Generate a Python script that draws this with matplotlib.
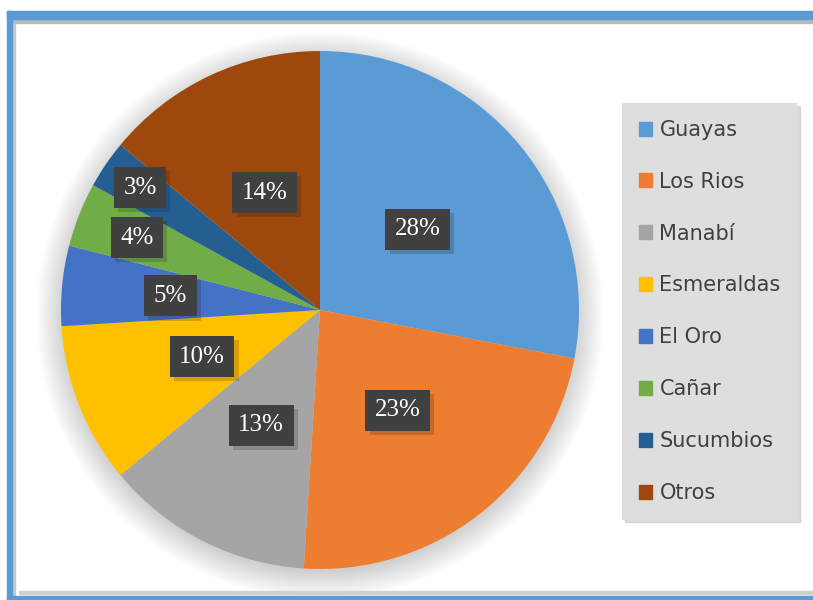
import matplotlib.pyplot as plt
import matplotlib.patheffects as pe
from matplotlib.patches import Rectangle, Circle
import numpy as np

# datos
provincias = ["Guayas", "Los Rios", "Manabí", "Esmeraldas", "El Oro",
              "Cañar", "Sucumbios", "Otros"]
porcentajes = [28, 23, 13, 10, 5, 4, 3, 14]
colores = ["#5b9bd5", "#ed7d31", "#a5a5a5", "#ffc000", "#4472c4",
           "#70ad47", "#255e91", "#9e480e"]

# distancia de cada etiqueta al centro (fraccion del radio)
dist_etiquetas = [0.49, 0.49, 0.5, 0.49, 0.58, 0.76, 0.84, 0.5]

W, H = 813, 600
fig = plt.figure(figsize=(W / 100, H / 100), dpi=100)
fig.patch.set_facecolor("white")

# marco azul con sombra interior
fig.patches.append(Rectangle((19, 6), W, 3, transform=None, color="#d0d0d0", zorder=0))
fig.patches.append(Rectangle((12, 4), 3, H - 23, transform=None, color="#c8c8c8", zorder=0))
fig.patches.append(Rectangle((12, H - 23), W, 4, transform=None, color="#b8b8b8", zorder=0))
fig.patches.append(Rectangle((7, 0), 5, H - 11, transform=None, color="#5b9bd5", zorder=1))
fig.patches.append(Rectangle((7, H - 19), W, 8, transform=None, color="#5b9bd5", zorder=1))
fig.patches.append(Rectangle((7, 0), W, 4, transform=None, color="#5b9bd5", zorder=1))

# ejes del pastel
cx, cy, r = 320, H - 310, 259
esc = 1.15
ax = fig.add_axes([(cx - r * esc) / W, (cy - r * esc) / H, 2 * r * esc / W, 2 * r * esc / H])

# sombra difusa
for k in range(16):
    ax.add_patch(Circle((0, -0.02), 0.99 + 0.007 * k, color="black",
                        alpha=0.012, lw=0, zorder=0))

wedges, _ = ax.pie(porcentajes, colors=colores, startangle=90, counterclock=False,
                   radius=1, wedgeprops=dict(linewidth=0))
ax.set_xlim(-esc, esc)
ax.set_ylim(-esc, esc)
ax.set_aspect("equal")
ax.axis("off")

for w, p, d in zip(wedges, porcentajes, dist_etiquetas):
    ang = np.deg2rad((w.theta1 + w.theta2) / 2)
    t = ax.text(d * np.cos(ang), d * np.sin(ang), f"{p}%", ha="center", va="center",
                color="white", fontsize=18, family="Liberation Serif", zorder=5,
                bbox=dict(boxstyle="square,pad=0.38", fc="#404040", ec="none"))
    t.get_bbox_patch().set_path_effects([pe.SimplePatchShadow(offset=(3, -3), alpha=0.18),
                                         pe.Normal()])

# leyenda
handles = [Rectangle((0, 0), 1, 1, color=c) for c in colores]
leg = fig.legend(handles, provincias, loc="upper left", bbox_to_anchor=(0.765, 0.828),
                 frameon=True, fancybox=False, shadow={"color": "#bbbbbb", "alpha": 0.5},
                 labelspacing=1.53, handlelength=0.65, handleheight=0.65,
                 handletextpad=0.35, borderpad=0.8, borderaxespad=0,
                 labelcolor="#404040", prop={"family": "DejaVu Sans", "size": 15})
leg.get_frame().set_facecolor("#dedede")
leg.get_frame().set_edgecolor("none")
leg.get_frame().set_alpha(1)

plt.savefig("out.png", dpi=100)
